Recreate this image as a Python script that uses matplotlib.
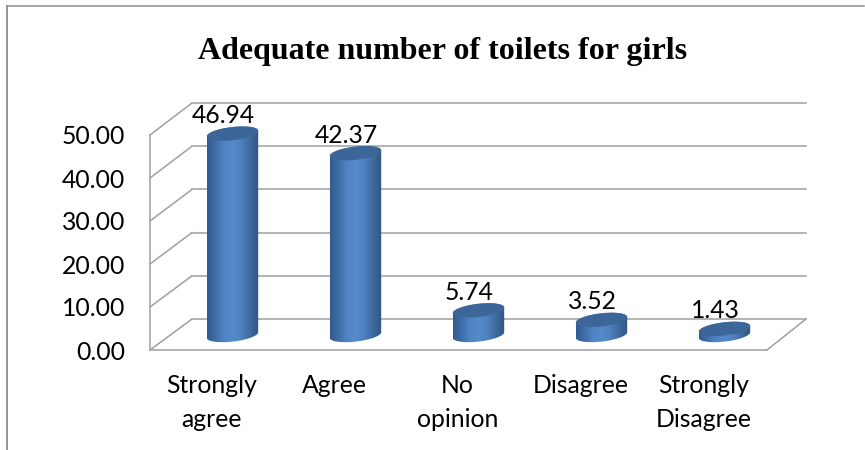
import numpy as np
import matplotlib
matplotlib.use("Agg")
import matplotlib.pyplot as plt
from matplotlib.colors import LinearSegmentedColormap
from matplotlib.patches import Polygon

categories = ["Strongly\nagree", "Agree", "No\nopinion", "Disagree", "Strongly\nDisagree"]
values = [46.94, 42.37, 5.74, 3.52, 1.43]
y_ticks = [0, 10, 20, 30, 40, 50]

W, H = 865, 450
DPI = 100
X0, DX = 232.5, 123.0      # pixel x of first category, pixels per category
Y0, DY = 335.0, 4.29       # pixel y of value 0 (cylinder base), pixels per unit
A, B, TILT = 25.7, 6.6, 2.8  # cylinder ellipse: half width, half height, shear
FS = 17.8

fig = plt.figure(figsize=(W / DPI, H / DPI), dpi=DPI)
ax = fig.add_axes([0, 0, 1, 1])
ax.set_xlim(-X0 / DX, (W - X0) / DX)
ax.set_ylim((Y0 - H) / DY, Y0 / DY)
ax.axis("off")

def X(px):
    return (px - X0) / DX

def Y(py):
    return (Y0 - py) / DY

GRID = "#a3a3a3"
def seg(x1, y1, x2, y2, lw=1.15, color=GRID, z=1):
    ax.plot([X(x1), X(x2)], [Y(y1), Y(y2)], color=color, lw=lw, zorder=z,
            solid_capstyle="projecting")

# outer frame of the chart
seg(7, 6, 864, 6, lw=1.1, color="#8c8c8c")
seg(7, 6, 7, 450, lw=1.3, color="#8c8c8c")

# 3D walls and gridlines, from the value scale
FRONT_L, BACK_L, FRONT_R, BACK_R = 150, 192, 767, 806
FRONT_0, BACK_0 = 350, 319
for t in y_ticks:
    yf = FRONT_0 - t * 4.30
    yb = BACK_0 - t * 4.32
    seg(BACK_L, yb, BACK_R, yb)
    seg(FRONT_L, yf, BACK_L, yb)
    ax.text(X(125), Y(yf + 2), f"{t:.2f}", ha="right", va="center",
            fontsize=FS, family="Lato", color="black")
seg(FRONT_L, FRONT_0, FRONT_L, FRONT_0 - 50 * 4.30)
seg(FRONT_L, FRONT_0, FRONT_R, FRONT_0)
seg(FRONT_R, FRONT_0, BACK_R, BACK_0)

# cylinders
body = LinearSegmentedColormap.from_list(
    "body", ["#2f5b8f", "#3f6fa9", "#5085c5", "#5689ca", "#4e80bd", "#3e6a9f", "#31557f"])
grad = np.linspace(0, 1, 128).reshape(1, -1)
t_top = np.linspace(np.pi, 2 * np.pi, 60)
t_bot = np.linspace(0, np.pi, 60)

def ellipse_pts(cx, cy, t):
    xs = cx + A * np.cos(t)
    ys = cy + B * np.sin(t) - TILT * np.cos(t)
    return xs, ys

for i, v in enumerate(values):
    cx = X0 + DX * i
    cy_top = Y0 - DY * v
    cy_bot = Y0
    xt, yt = ellipse_pts(cx, cy_top, t_top)
    xb, yb = ellipse_pts(cx, cy_bot, t_bot)
    outline = np.column_stack([X(np.r_[xt, xb]), Y(np.r_[yt, yb])])
    clip = Polygon(outline, closed=True, facecolor="none", edgecolor="none", zorder=3)
    ax.add_patch(clip)
    im = ax.imshow(grad, cmap=body, aspect="auto", zorder=3, interpolation="bilinear",
                   extent=[X(cx - A), X(cx + A), Y(cy_bot + 10), Y(cy_top - 10)])
    im.set_clip_path(clip)
    xe, ye = ellipse_pts(cx, cy_top, np.linspace(0, 2 * np.pi, 120))
    ax.add_patch(Polygon(np.column_stack([X(xe), Y(ye)]), closed=True,
                         facecolor="#3c6697", edgecolor="none", zorder=4))
    ax.annotate(f"{v:.2f}", (i, v), xytext=(-9.5 * 0.72, 18 * 0.72),
                textcoords="offset points", ha="center", va="center",
                fontsize=FS, family="Lato", color="black", zorder=5)
    ax.text(X(cx - 21), Y(374), categories[i], ha="center", va="top",
            fontsize=FS, family="Lato", color="black", linespacing=1.58)

ax.set_xlim(-X0 / DX, (W - X0) / DX)
ax.set_ylim((Y0 - H) / DY, Y0 / DY)

ax.text(X(443), Y(52), "Adequate number of toilets for girls", ha="center", va="center",
        fontsize=23, family="Liberation Serif", fontweight="bold", color="black")

fig.savefig("out.png", dpi=DPI)
